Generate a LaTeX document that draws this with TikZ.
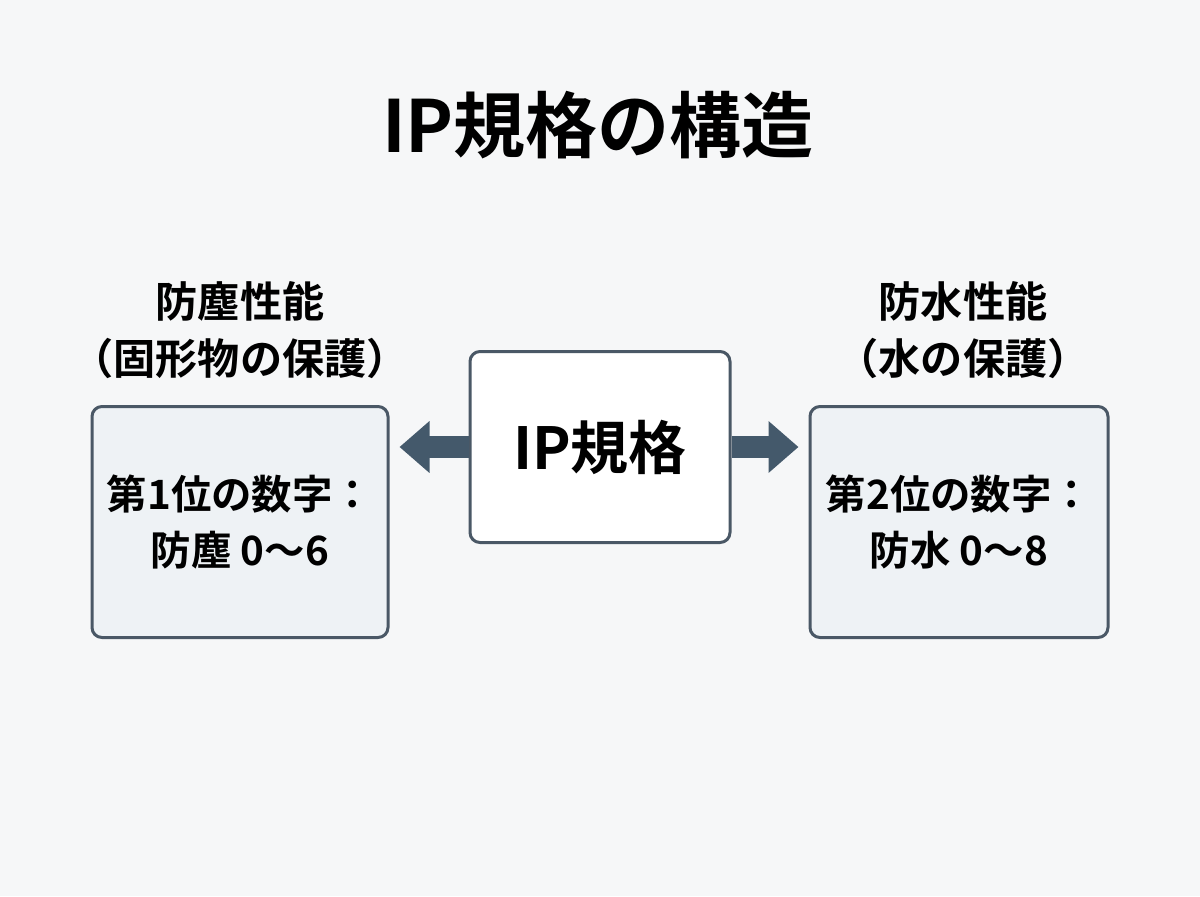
\documentclass[tikz,border=0pt]{standalone}
\usepackage{fontspec}
\setmainfont{Noto Sans CJK JP}[BoldFont={Noto Sans CJK JP Bold}]
\usetikzlibrary{arrows.meta}
\definecolor{edgegray}{HTML}{4A5866}
\definecolor{boxfill}{HTML}{EEF2F5}
\definecolor{arrowblue}{HTML}{44596B}
\definecolor{bggray}{HTML}{F6F7F8}

\begin{document}
\begin{tikzpicture}[x=0.02cm,y=-0.02cm,
  box/.style={draw=edgegray, line width=3*0.02cm, rounded corners=10*0.02cm, inner sep=0pt, align=center, font=\bfseries\fontsize{23}{32}\selectfont},
  caption/.style={align=center, font=\bfseries\fontsize{24}{32}\selectfont},
  bigarrow/.style={arrowblue, line width=22*0.02cm, -{Triangle[length=30*0.02cm,width=50*0.02cm]}, shorten >=10*0.02cm}]

% Background
\fill[bggray] (0,0) rectangle (1200,896);
\useasboundingbox (0,0) rectangle (1200,896);

% Title
\node[font=\bfseries\fontsize{41}{41}\selectfont] (title) at (598,125) {IP規格の構造};

% Three boxes
\node[box, fill=boxfill, minimum width=296*0.02cm, minimum height=231*0.02cm] (dust) at (240,522) {第1位の数字：\\防塵 0〜6};
\node[box, fill=white, minimum width=260*0.02cm, minimum height=191*0.02cm, font=\bfseries\fontsize{33}{33}\selectfont] (ip) at (600,447) {IP規格};
\node[box, fill=boxfill, minimum width=298*0.02cm, minimum height=231*0.02cm] (water) at (959,522) {第2位の数字：\\防水 0〜8};

% Captions above the side boxes
\node[caption] (dustcap) at (240,330) {防塵性能\\（固形物の保護）};
\node[caption] (watercap) at (963,330) {防水性能\\（水の保護）};

% Arrows
\coordinate (dustend) at (dust.east |- ip.west);
\coordinate (waterend) at (water.west |- ip.east);
\draw[bigarrow] (ip.west) -- (dustend);
\draw[bigarrow] (ip.east) -- (waterend);

\end{tikzpicture}
\end{document}
